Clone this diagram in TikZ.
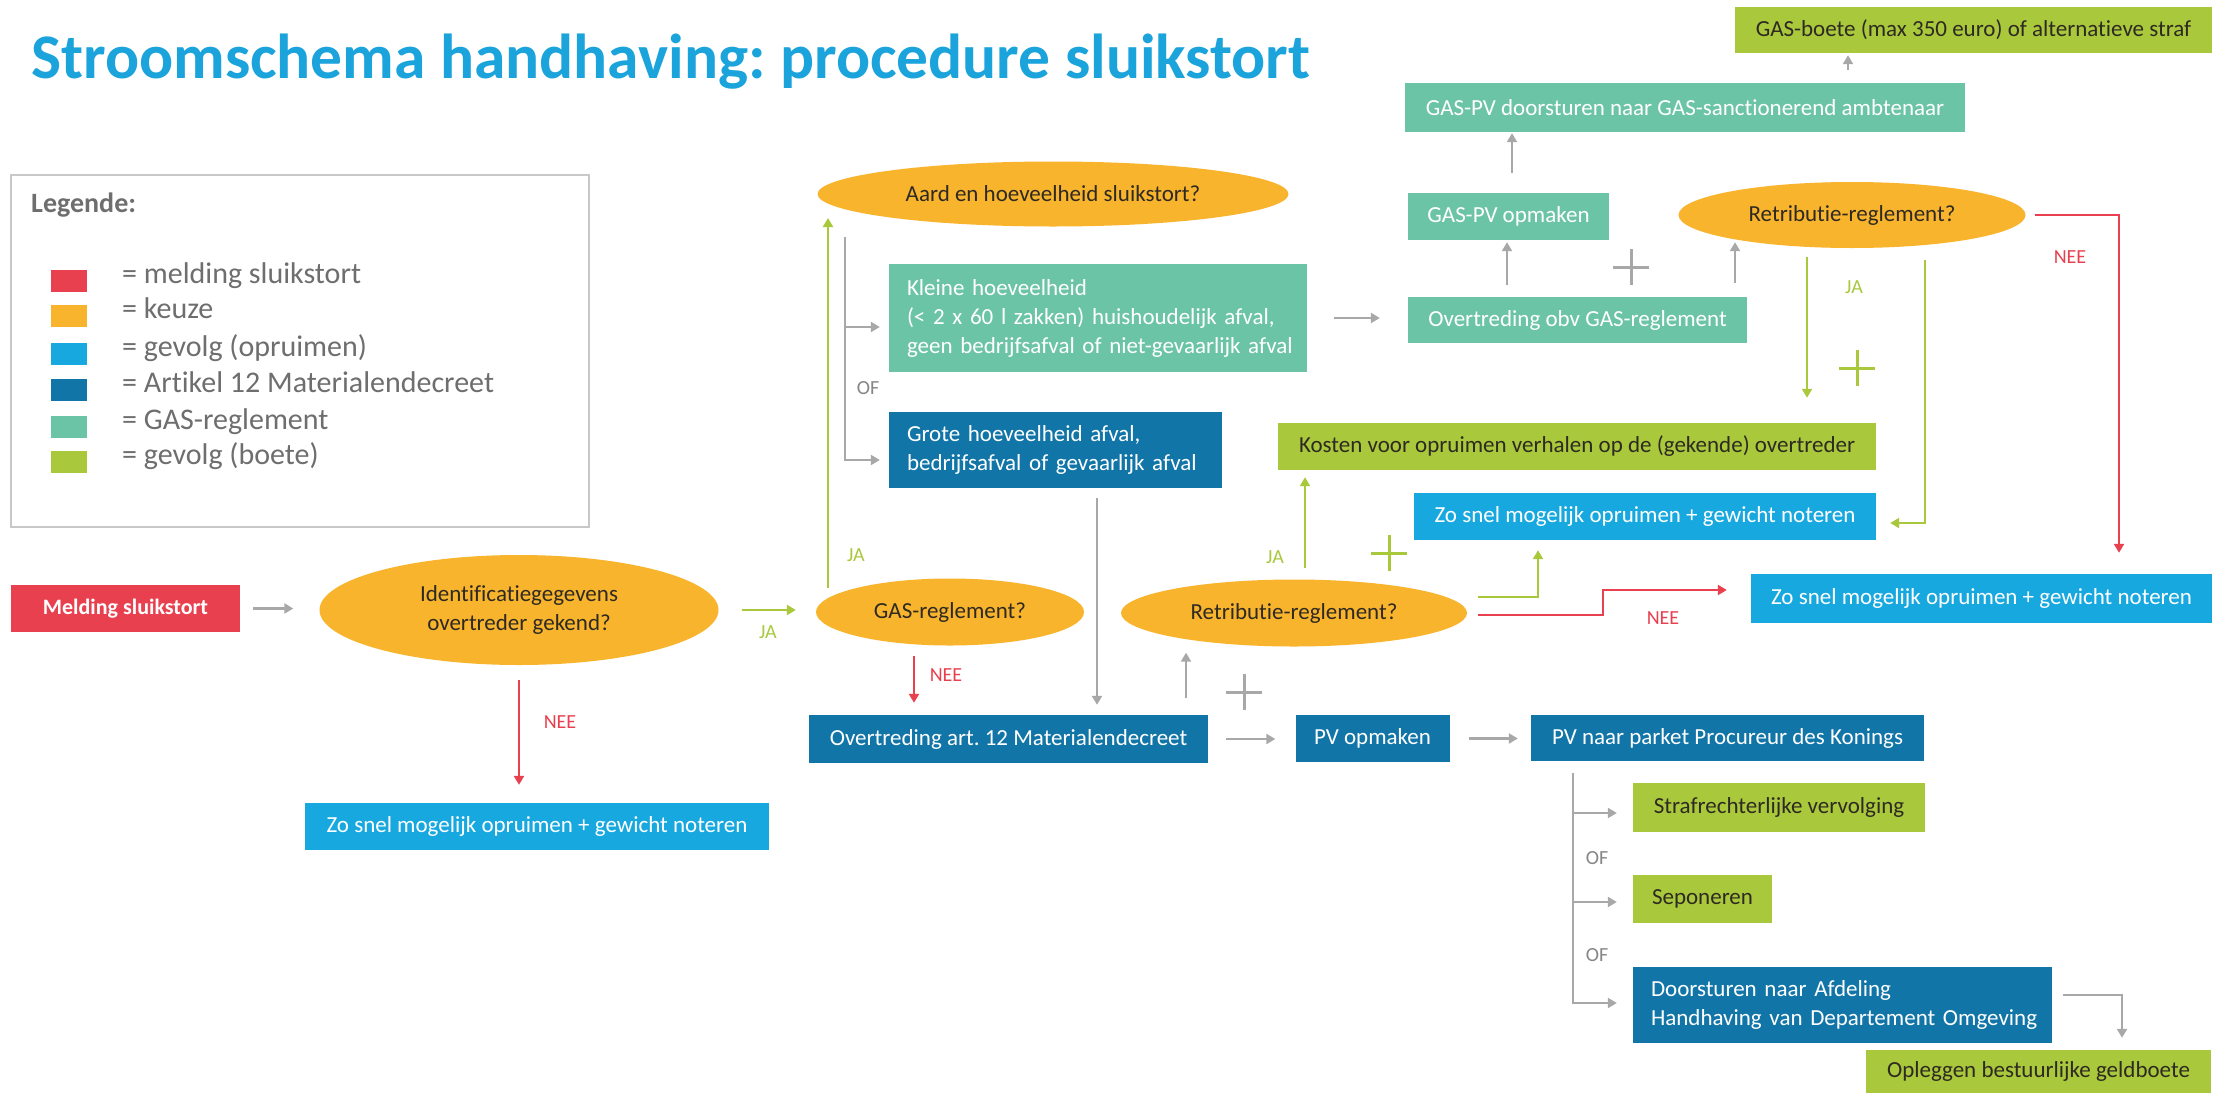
\documentclass[tikz,border=0pt]{standalone}
\usepackage{fontspec}
\setmainfont{Carlito}[Ligatures=NoCommon]
\usetikzlibrary{shapes.geometric,arrows.meta,calc}
\frenchspacing
\definecolor{cred}{HTML}{E8404F}
\definecolor{cyel}{HTML}{F9B42D}
\definecolor{clb}{HTML}{18A8E0}
\definecolor{cdb}{HTML}{1175A8}
\definecolor{cteal}{HTML}{6CC4A6}
\definecolor{cgreen}{HTML}{A9C83C}
\definecolor{cgray}{HTML}{A8A8A8}
\definecolor{ctitle}{HTML}{1BA3DB}
\definecolor{ctext}{HTML}{2E2A22}
\definecolor{clegtext}{HTML}{6E6E6E}
\definecolor{clegbox}{HTML}{C8C8C8}
\newcommand\drawplus[2]{\draw[#1, line width=3pt] ($(#2)+(-18,0)$) -- ($(#2)+(18,0)$) ($(#2)+(0,-18)$) -- ($(#2)+(0,18)$);}
\begin{document}
\begin{tikzpicture}[x=1pt,y=-1pt,
 fnt/.style={font=\fontsize{23}{29}\selectfont},
 box/.style={rectangle, inner sep=0pt, fnt},
 rbox/.style={box, fill=cred, text=white, font=\fontsize{22}{28}\selectfont\bfseries},
 lbbox/.style={box, fill=clb, text=white},
 dbbox/.style={box, fill=cdb, text=white},
 tbox/.style={box, fill=cteal, text=white},
 gbox/.style={box, fill=cgreen, text=ctext},
 leftbox/.style={align=left, inner xsep=18pt},
 keuze/.style={ellipse, fill=cyel, inner sep=0pt, fnt, text=ctext, align=center},
 gln/.style={draw=cgray, line width=2.2pt},
 garr/.style={gln, -{Triangle[length=9pt,width=10pt]}},
 jarr/.style={draw=cgreen, line width=2.2pt, -{Triangle[length=9pt,width=10pt]}},
 narr/.style={draw=cred, line width=2.2pt, -{Triangle[length=9pt,width=10pt]}},
 lab/.style={font=\fontsize{20}{24}\selectfont, inner sep=0pt},
 swatch/.style={rectangle, inner sep=0pt, minimum width=36, minimum height=22},
 legtxt/.style={anchor=mid west, inner sep=0pt, font=\fontsize{30}{36}\selectfont, text=clegtext},
]
\useasboundingbox (0,0) rectangle (2229,1095);
\fill[white] (0,0) rectangle (2229,1095);

% title
\node[anchor=base west, inner sep=0pt, font=\fontsize{63.5}{70}\selectfont\bfseries, text=ctitle] (title) at (31,78) {Stroomschema handhaving: procedure sluikstort};

% legend
\node[rectangle, draw=clegbox, line width=2.5pt, minimum width=578, minimum height=352] (legend) at (300,351) {};
\node[anchor=west, inner sep=0pt, font=\fontsize{28}{34}\selectfont\bfseries, text=clegtext] (legtitle) at (31,205) {Legende:};
\node[swatch, fill=cred] (sw1) at (69,281) {};
\node[swatch, fill=cyel] (sw2) at (69,316) {};
\node[swatch, fill=clb] (sw3) at (69,354) {};
\node[swatch, fill=cdb] (sw4) at (69,390) {};
\node[swatch, fill=cteal] (sw5) at (69,427) {};
\node[swatch, fill=cgreen] (sw6) at (69,462) {};
\node[legtxt] (lt1) at (122,281) {= melding sluikstort};
\node[legtxt] (lt2) at (122,316) {= keuze};
\node[legtxt] (lt3) at (122,354) {= gevolg (opruimen)};
\node[legtxt] (lt4) at (122,390) {= Artikel 12 Materialendecreet};
\node[legtxt] (lt5) at (122,427) {= GAS-reglement};
\node[legtxt] (lt6) at (122,462) {= gevolg (boete)};

% nodes
\node[rbox, minimum width=229, minimum height=47] (melding) at (125.5,608.5) {Melding sluikstort};
\node[keuze, minimum width=399, minimum height=110] (ident) at (519,610) {Identificatiegegevens\\overtreder gekend?};
\node[lbbox, minimum width=464, minimum height=47] (zo1) at (537,826.5) {Zo snel mogelijk opruimen + gewicht noteren};
\node[keuze, minimum width=471, minimum height=65] (aard) at (1053,194) {Aard en hoeveelheid sluikstort?};
\node[tbox, leftbox, text width=382, minimum width=418, minimum height=108] (kleine) at (1098,318) {\mbox{Kleine hoeveelheid}\\\mbox{(< 2 x 60 l zakken) huishoudelijk afval,}\\\mbox{geen bedrijfsafval of niet-gevaarlijk afval}};
\node[dbbox, leftbox, text width=297, minimum width=333, minimum height=76] (grote) at (1055.5,450) {\mbox{Grote hoeveelheid afval,}\\\mbox{bedrijfsafval of gevaarlijk afval}};
\node[keuze, minimum width=268, minimum height=67] (gas) at (950,612) {GAS-reglement?};
\node[dbbox, minimum width=399, minimum height=48] (art12) at (1008.5,739) {Overtreding art. 12 Materialendecreet};
\node[keuze, minimum width=346, minimum height=67] (retr1) at (1294,613) {Retributie-reglement?};
\node[dbbox, minimum width=154, minimum height=47] (pv) at (1372.5,738.5) {PV opmaken};
\node[dbbox, minimum width=393, minimum height=46] (parket) at (1727.5,738) {PV naar parket Procureur des Konings};
\node[gbox, minimum width=292, minimum height=49] (straf) at (1779,807.5) {Strafrechterlijke vervolging};
\node[gbox, minimum width=139, minimum height=48] (sepon) at (1702.5,899) {Seponeren};
\node[dbbox, leftbox, text width=383, minimum width=419, minimum height=76] (door) at (1842.5,1005) {\mbox{Doorsturen naar Afdeling}\\\mbox{Handhaving van Departement Omgeving}};
\node[gbox, minimum width=345, minimum height=43] (oplg) at (2038.5,1071.5) {Opleggen bestuurlijke geldboete};
\node[gbox, minimum width=598, minimum height=47] (kosten) at (1577,446.5) {Kosten voor opruimen verhalen op de (gekende) overtreder};
\node[lbbox, minimum width=462, minimum height=47] (zo2) at (1645,516.5) {Zo snel mogelijk opruimen + gewicht noteren};
\node[lbbox, minimum width=461, minimum height=49] (zo3) at (1981.5,598.5) {Zo snel mogelijk opruimen + gewicht noteren};
\node[tbox, minimum width=339, minimum height=46] (ovgas) at (1577.5,320) {Overtreding obv GAS-reglement};
\node[tbox, minimum width=201, minimum height=47] (gaspv) at (1508.5,216.5) {GAS-PV opmaken};
\node[keuze, minimum width=347, minimum height=66] (retr2) at (1852,215) {Retributie-reglement?};
\node[tbox, minimum width=560, minimum height=49] (gasdoor) at (1685,107.5) {GAS-PV doorsturen naar GAS-sanctionerend ambtenaar};
\node[gbox, minimum width=477, minimum height=46] (gasboete) at (1973.5,30) {GAS-boete (max 350 euro) of alternatieve straf};

% labels
\node[lab, text=cgreen] (ja1) at (768,632) {JA};
\node[lab, text=cred] (nee1) at (560,722) {NEE};
\node[lab, text=cgreen] (ja2) at (856,555) {JA};
\node[lab, text=cgray!80!black] (of1) at (868,388) {OF};
\node[lab, text=cred] (nee2) at (946,675) {NEE};
\node[lab, text=cgreen] (ja3) at (1275,557) {JA};
\node[lab, text=cred] (nee3) at (1663,618) {NEE};
\node[lab, text=cgreen] (ja4) at (1854,287) {JA};
\node[lab, text=cred] (nee4) at (2070,257) {NEE};
\node[lab, text=cgray!80!black] (of2) at (1597,858) {OF};
\node[lab, text=cgray!80!black] (of3) at (1597,955) {OF};

% connectors
\draw[garr, shorten <=13pt, shorten >=26pt] (melding.east) -- (melding.east -| ident.west);
\draw[jarr, shorten <=23pt, shorten >=20pt] (ident.east) -- (ident.east -| gas.west);
\draw[narr, shorten <=15pt, shorten >=18pt] (ident.south) -- (ident.south |- zo1.north);
\coordinate (jaS) at (828,588);
\coordinate (jaE) at (828,218);
\draw[jarr] (jaS) -- (jaE);
\coordinate (br1) at (845,237);
\draw[garr, shorten >=9pt] (br1) |- ([yshift=-9pt]kleine.west);
\draw[garr, shorten >=9pt] (br1) |- ([yshift=-10pt]grote.west);
\draw[garr, shorten <=27pt, shorten >=28pt] (kleine.east) -- (kleine.east -| ovgas.west);
\draw[garr, shorten <=10pt, shorten >=10pt] ([xshift=41.5pt]grote.south) -- ([xshift=41.5pt]grote.south |- art12.north);
\draw[narr, shorten <=10pt, shorten >=12pt] ([xshift=-36pt]gas.south) -- ([xshift=-36pt]gas.south |- art12.north);
\draw[garr, shorten <=18pt, shorten >=20pt] (art12.east) -- (art12.east -| pv.west);
\draw[garr, shorten <=19pt, shorten >=13pt] (pv.east) -- (pv.east -| parket.west);
\draw[garr, shorten <=17pt, shorten >=6pt] ([xshift=177.5pt]art12.north) -- ([xshift=177.5pt]art12.north |- retr1.south);
\draw[jarr, shorten >=7pt] ([xshift=11pt, yshift=11.5pt]retr1.north) -- ([xshift=11pt]retr1.north |- kosten.south);
\draw[jarr, shorten >=10pt] ([xshift=11pt, yshift=16pt]retr1.east) -| ([xshift=-107pt]zo2.south);
\draw[narr] ([xshift=11pt, yshift=-2pt]retr1.east) -- ++(125,0) |- ([xshift=-24pt,yshift=8.5pt]zo3.west);
\draw[garr, shorten <=12pt, shorten >=2pt] ([xshift=-70.5pt]ovgas.north) -- ([xshift=-70.5pt]ovgas.north |- gaspv.south);
\draw[garr, shorten <=20pt, shorten >=1pt] ([xshift=3.5pt]gaspv.north) -- ([xshift=3.5pt]gaspv.north |- gasdoor.south);
\draw[garr, shorten <=13pt, shorten >=2pt] ([xshift=163pt]gasdoor.north) -- ([xshift=163pt]gasdoor.north |- gasboete.south);
\draw[garr, shorten <=14pt, shorten >=-6pt] ([xshift=157.5pt]ovgas.north) -- ([xshift=157.5pt]ovgas.north |- retr2.south);
\draw[jarr, shorten >=25pt] ([xshift=-45pt, yshift=-9pt]retr2.south) -- ([xshift=-45pt]retr2.south |- kosten.north);
\draw[jarr] ([xshift=73pt, yshift=-12pt]retr2.south) |- ([xshift=14pt, yshift=-6.5pt]zo2.east);
\draw[narr] ([xshift=9pt]retr2.east) -| ([xshift=137.5pt, yshift=21pt]zo3.north);
\draw[garr, shorten >=16pt] ([xshift=-154.5pt,yshift=-12pt]parket.south) |- ([yshift=-5.5pt]straf.west);
\draw[garr, shorten >=16pt] ([xshift=-154.5pt,yshift=-12pt]parket.south) |- ([yshift=-3pt]sepon.west);
\draw[garr, shorten >=16pt] ([xshift=-154.5pt,yshift=-12pt]parket.south) |- ([yshift=2pt]door.west);
\draw[garr] ([xshift=11pt, yshift=10pt]door.east) -| ([xshift=83.5pt, yshift=12pt]oplg.north);

% plus signs
\drawplus{cgray}{1244,692}
\drawplus{cgray}{1631,267}
\drawplus{cgreen}{1389,553}
\drawplus{cgreen}{1857,368}
\end{tikzpicture}
\end{document}
